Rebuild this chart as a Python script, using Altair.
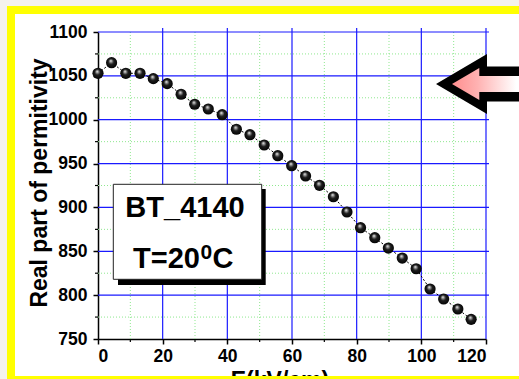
import altair as alt
import pandas as pd

# Field strength (kV/cm) and real part of permittivity
field_kv_cm = [0, 4.2, 8.6, 13.0, 17.1, 21.4, 25.7, 29.9, 34.1, 38.4, 42.8, 47.0,
               51.4, 55.6, 59.9, 64.2, 68.5, 72.8, 77.0, 81.2, 85.6, 89.8, 94.1,
               98.4, 102.7, 106.9, 111.3, 115.4]
permittivity = [1052.9, 1065.0, 1052.9, 1052.9, 1046.8, 1041.1, 1029.0, 1017.6,
                1012.2, 1005.7, 989.1, 982.9, 971.2, 959.0, 947.6, 935.8, 925.2,
                912.2, 894.8, 876.9, 865.5, 853.7, 842.3, 830.1, 807.0, 795.6,
                784.2, 772.4]

# Axis ticks and grid positions
x_major = [0, 20, 40, 60, 80, 100, 120]
x_minor = [10, 30, 50, 70, 90, 110]
y_major = [750, 800, 850, 900, 950, 1000, 1050, 1100]
y_minor = [775, 825, 875, 925, 975, 1025, 1075]

W, H = 388, 307
FONT = "Liberation Sans"

df = pd.DataFrame({"E": field_kv_cm, "eps": permittivity})
one = pd.DataFrame({"i": [0]})

xs = alt.Scale(domain=[0, 120], nice=False)
ys = alt.Scale(domain=[750, 1100], nice=False)


def px_rect(x, x2, y, y2, color):
    return alt.Chart(one).mark_rect(color=color, opacity=1).encode(
        x=alt.value(x), x2=alt.value(x2), y=alt.value(y), y2=alt.value(y2))


def label(text, x, y, size, align="center"):
    return alt.Chart(one).mark_text(
        text=text, font=FONT, fontSize=size, fontWeight="bold", color="black",
        align=align, baseline="alphabetic"
    ).encode(x=alt.value(x), y=alt.value(y))


# outer margin and yellow frame (only the border strips, so axes stay visible)
BEIGE = "#f4f2ec"
margin_top = px_rect(-98, 440, -32, -26, BEIGE)
margin_left = px_rect(-98, -91, -32, 360, BEIGE)
frame_top = px_rect(-91, 440, -26, -18, "#ffff00")
frame_left = px_rect(-91, -83, -26, 360, "#ffff00")
frame_bottom = px_rect(-91, 440, 344, 360, "#ffff00")

# minor dotted green grid
vminor = alt.Chart(pd.DataFrame({"v": x_minor})).mark_rule(
    color="#8fe88f", strokeDash=[1, 2], strokeWidth=1
).encode(x=alt.X("v:Q", scale=xs), y=alt.value(0), y2=alt.value(H))
hminor = alt.Chart(pd.DataFrame({"v": y_minor})).mark_rule(
    color="#8fe88f", strokeDash=[1, 2], strokeWidth=1
).encode(y=alt.Y("v:Q", scale=ys), x=alt.value(0), x2=alt.value(W))

# major blue grid, with small ticks past the top and right edges
vmajor = alt.Chart(pd.DataFrame({"v": x_major[1:]})).mark_rule(
    color="#1a1aff", strokeWidth=1.2
).encode(x=alt.X("v:Q", scale=xs), y=alt.value(-4), y2=alt.value(H))
hmajor = alt.Chart(pd.DataFrame({"v": y_major[1:]})).mark_rule(
    color="#1a1aff", strokeWidth=1.2
).encode(y=alt.Y("v:Q", scale=ys), x=alt.value(0), x2=alt.value(W + 3))

# minor ticks on the left and bottom axes
ytick_minor = alt.Chart(pd.DataFrame({"v": y_minor})).mark_rule(
    color="black", strokeWidth=1.2
).encode(y=alt.Y("v:Q", scale=ys), x=alt.value(-3), x2=alt.value(0))
xtick_minor = alt.Chart(pd.DataFrame({"v": x_minor})).mark_rule(
    color="black", strokeWidth=1.2
).encode(x=alt.X("v:Q", scale=xs), y=alt.value(H), y2=alt.value(H + 3))

base = alt.Chart(df).encode(
    x=alt.X("E:Q", scale=xs,
            axis=alt.Axis(values=x_major, title=None, grid=False, format="d",
                          labelPadding=3)),
    y=alt.Y("eps:Q", scale=ys,
            axis=alt.Axis(values=y_major, title=None, grid=False, format="d",
                          labelPadding=6)),
)

line = base.mark_line(color="black", strokeWidth=1, strokeDash=[2, 2])

ball_fill = {
    "gradient": "radial",
    "x1": 0.42, "y1": 0.32, "r1": 0,
    "x2": 0.5, "y2": 0.5, "r2": 0.55,
    "stops": [
        {"offset": 0.0, "color": "#ffffff"},
        {"offset": 0.18, "color": "#9a9a9a"},
        {"offset": 0.45, "color": "#1e1e1e"},
        {"offset": 1.0, "color": "#000000"},
    ],
}
balls = base.mark_point(shape="circle", size=125, filled=True, fill=ball_fill,
                        opacity=1, strokeWidth=0)

# annotation box with drop shadow
shadow = px_rect(20, 167.7, 157, 253, "#000000")
box = alt.Chart(one).mark_rect(fill="white", stroke="#222222", strokeWidth=1,
                               opacity=1).encode(
    x=alt.value(15.3), x2=alt.value(163.7), y=alt.value(152.3), y2=alt.value(247.3))
name_txt = label("BT_4140", 87, 185.3, 29)
temp_txt = label("T=20", 102, 235.7, 29, align="right")
deg_txt = label("0", 102.5, 227, 21, align="left")
c_txt = label("C", 114.5, 235.7, 29, align="left")

# pointer arrow
arrow_outer_path = ("M -0.84 0 L 0.18 -0.6 L 0.18 -0.35 L 0.94 -0.35 "
                    "L 0.94 0.35 L 0.18 0.35 L 0.18 0.6 Z")
arrow_inner_path = ("M -0.52 0 L 0.026 -0.32 L 0.026 -0.16 L 0.94 -0.16 "
                    "L 0.94 0.16 L 0.026 0.16 L 0.026 0.32 Z")
pink = {
    "gradient": "linear", "x1": 0, "y1": 0, "x2": 1, "y2": 0,
    "stops": [
        {"offset": 0.0, "color": "#ff8e8e"},
        {"offset": 0.35, "color": "#ffb2b2"},
        {"offset": 0.88, "color": "#ffffff"},
    ],
}
arrow_outer = alt.Chart(one).mark_point(
    shape=arrow_outer_path, size=10000, filled=True, fill="black",
    opacity=1, strokeWidth=0
).encode(x=alt.value(380), y=alt.value(52))
arrow_inner = alt.Chart(one).mark_point(
    shape=arrow_inner_path, size=10000, filled=True, fill=pink,
    opacity=1, strokeWidth=0
).encode(x=alt.value(380), y=alt.value(52))

# axis titles
ytitle = alt.Chart(one).mark_text(
    text="Real part of permitivity", font=FONT, fontSize=23, fontWeight="bold",
    color="black", angle=270, align="center", baseline="alphabetic"
).encode(x=alt.value(-51.3), y=alt.value(151))
xtitle = label("E(kV/cm)", 182, 356, 23)

chart = alt.layer(
    margin_top, margin_left, frame_top, frame_left,
    vminor, hminor, vmajor, hmajor, ytick_minor, xtick_minor,
    line, balls, shadow, box, name_txt, temp_txt, deg_txt, c_txt,
    arrow_outer, arrow_inner, ytitle, xtitle, frame_bottom,
).properties(
    width=W, height=H,
    padding={"left": 98, "top": 32, "right": 33, "bottom": 40},
    autosize="none",
    background="white",
).configure_view(stroke=None).configure_axis(
    domainColor="black", domainWidth=1.5,
    tickColor="black", tickWidth=1.5, tickSize=5,
    labelFont=FONT, labelFontWeight="bold", labelFontSize=17.5,
    labelColor="black",
)

chart.save("out.html", embed_options={"renderer": "svg", "actions": False})
